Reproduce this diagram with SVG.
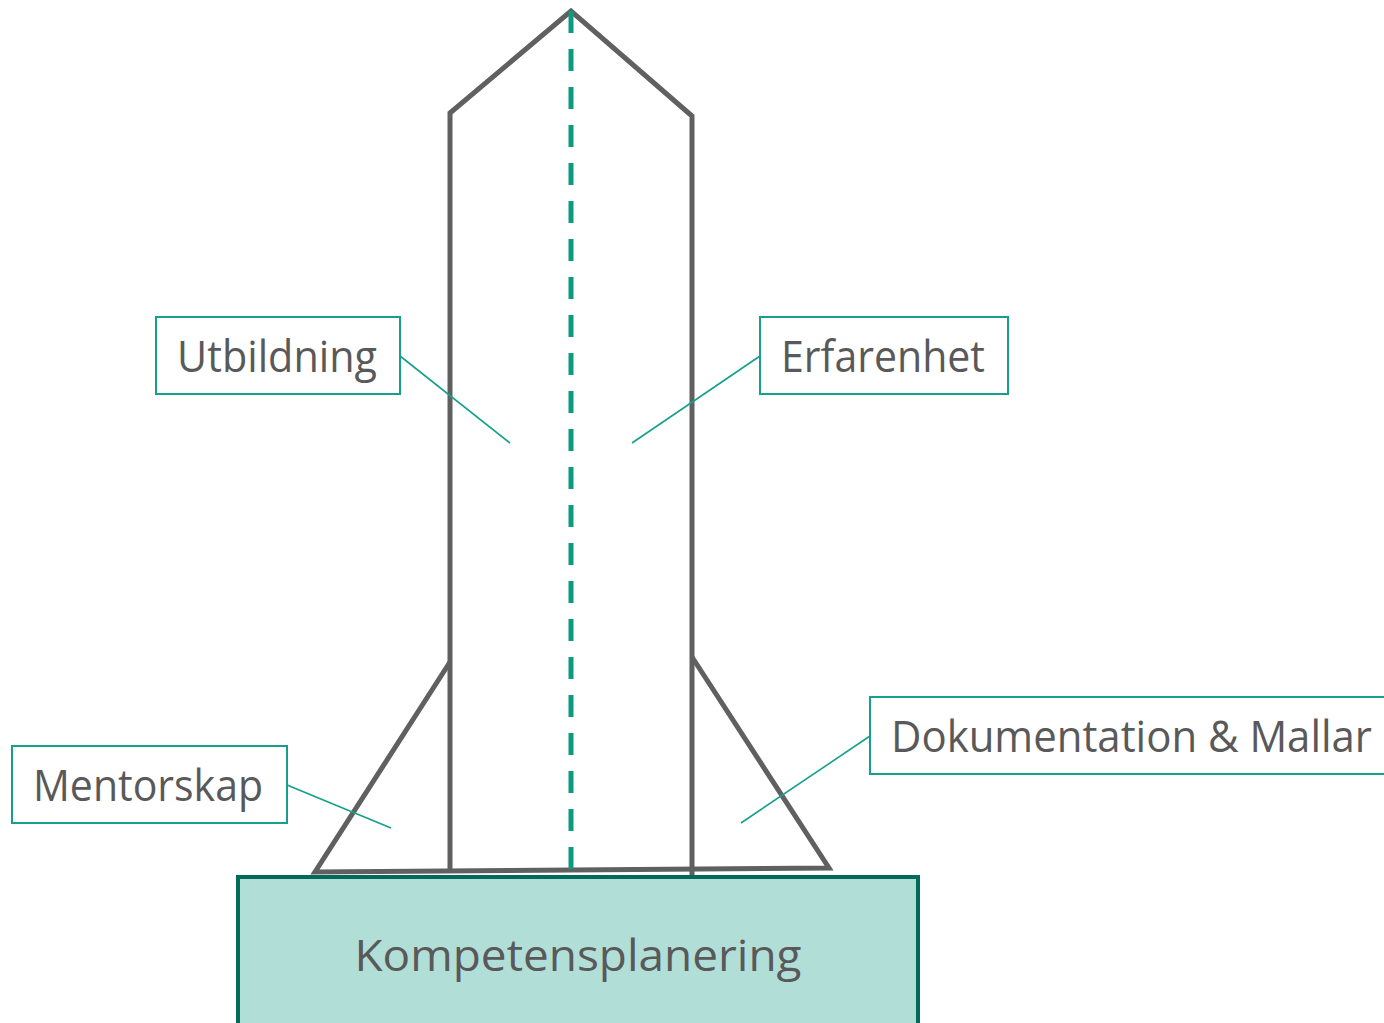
<svg xmlns="http://www.w3.org/2000/svg" width="1384" height="1023" viewBox="0 0 1384 1023">
<style>
.rk{fill:none;stroke:#606060;stroke-width:5;stroke-linejoin:miter;stroke-linecap:butt}
.bx{fill:#ffffff;stroke:#14a08a;stroke-width:2}
.ld{stroke:#14a08a;stroke-width:1.6;fill:none}
.t{font-family:"Open Sans","Noto Sans",sans-serif;fill:#595959;font-size:44px}
</style>
<rect width="1384" height="1023" fill="#ffffff"/>
<g id="rocket">
<polyline class="rk" points="450,872 450,113 571,11 692,116 692,875"/>
<polyline class="rk" points="450,662 315,872 829,868 692,657"/>
<line x1="571" y1="11" x2="571" y2="870" stroke="#0f9a80" stroke-width="5" stroke-dasharray="22,16"/>
</g>
<g id="connectors">
<line class="ld" x1="400" y1="356" x2="510" y2="443"/>
<line class="ld" x1="760" y1="356" x2="632" y2="443"/>
<line class="ld" x1="287" y1="785" x2="391" y2="828"/>
<line class="ld" x1="870" y1="736" x2="741" y2="823"/>
</g>
<g id="kompetensplanering">
<rect x="238" y="877" width="680" height="160" fill="#b2ded8" stroke="#006b5a" stroke-width="4"/>
<text class="t" x="578" y="971" text-anchor="middle" font-size="50" textLength="447" lengthAdjust="spacingAndGlyphs">Kompetensplanering</text>
</g>
<g id="utbildning">
<rect class="bx" x="156" y="317" width="244" height="77"/>
<text class="t" x="277" y="372" text-anchor="middle" textLength="200" lengthAdjust="spacingAndGlyphs">Utbildning</text>
</g>
<g id="erfarenhet">
<rect class="bx" x="760" y="317" width="248" height="77"/>
<text class="t" x="883" y="372" text-anchor="middle" textLength="204" lengthAdjust="spacingAndGlyphs">Erfarenhet</text>
</g>
<g id="mentorskap">
<rect class="bx" x="12" y="746" width="275" height="77"/>
<text class="t" x="148" y="801" text-anchor="middle" textLength="230" lengthAdjust="spacingAndGlyphs">Mentorskap</text>
</g>
<g id="dokumentation">
<rect class="bx" x="870" y="697" width="530" height="77"/>
<text class="t" x="891" y="752" textLength="481" lengthAdjust="spacingAndGlyphs">Dokumentation &amp; Mallar</text>
</g>
</svg>
